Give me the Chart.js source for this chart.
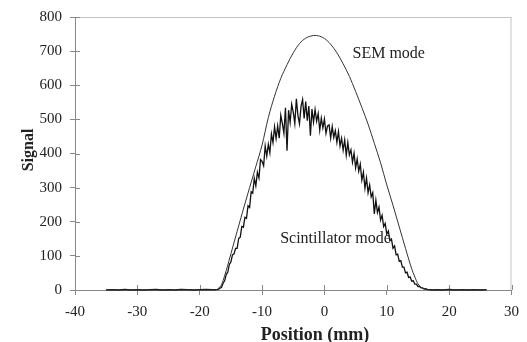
<!DOCTYPE html>
<html>
<head>
<meta charset="utf-8">
<script src="https://cdn.jsdelivr.net/npm/chart.js@4/dist/chart.umd.min.js"></script>
<style>
  html, body { margin: 0; padding: 0; background: #fff; }
</style>
</head>
<body>
<canvas id="myChart" width="527" height="342"></canvas>
<script>
// tick labels
const xTicks = [-40, -30, -20, -10, 0, 10, 20, 30];
const yTicks = [0, 100, 200, 300, 400, 500, 600, 700, 800];

// SEM mode (smooth)
const semX = [-35, -20, -17.5, -17, -16.5, -16, -15.5, -15, -14, -13, -12, -11, -10, -9, -8, -7, -6, -5, -4, -3, -2, -1.5, -1,
  0, 1, 2, 3, 4, 5, 6, 7, 8, 9, 10, 11, 12, 13, 14, 14.5, 15, 15.5, 16, 17, 20, 26];
const semY = [0, 0, 0, 5, 16, 42, 73, 106, 172, 237, 300, 362, 425, 505, 568, 620, 660, 695, 722, 738, 745, 746, 745,
  737, 720, 695, 663, 626, 582, 535, 486, 430, 373, 308, 248, 185, 122, 62, 38, 18, 8, 3, 0, 0, 0];

// Scintillator mode (noisy)
const scintX = [
  -35, -34, -33, -32, -31, -30, -29, -28, -27, -26, -25, -24, -23, -22, -21, -20, -19, -18, -17.5,
  -17, -16.75, -16.5, -16.25,
  -16, -15.75, -15.5, -15.25,
  -15, -14.75, -14.5, -14.25,
  -14, -13.75, -13.5, -13.25,
  -13, -12.75, -12.5, -12.25,
  -12, -11.75, -11.5, -11.25,
  -11, -10.75, -10.5, -10.25,
  -10, -9.75, -9.5, -9.25,
  -9, -8.75, -8.5, -8.25,
  -8, -7.75, -7.5, -7.25,
  -7, -6.75, -6.5, -6.25,
  -6, -5.75, -5.5, -5.25,
  -5, -4.75, -4.5, -4.25,
  -4, -3.75, -3.5, -3.25,
  -3, -2.75, -2.5, -2.25,
  -2, -1.75, -1.5, -1.25,
  -1, -0.75, -0.5, -0.25,
  0, 0.25, 0.5, 0.75,
  1, 1.25, 1.5, 1.75,
  2, 2.25, 2.5, 2.75,
  3, 3.25, 3.5, 3.75,
  4, 4.25, 4.5, 4.75,
  5, 5.25, 5.5, 5.75,
  6, 6.25, 6.5, 6.75,
  7, 7.25, 7.5, 7.75,
  8, 8.25, 8.5, 8.75,
  9, 9.25, 9.5, 9.75,
  10, 10.25, 10.5, 10.75,
  11, 11.25, 11.5, 11.75,
  12, 12.25, 12.5, 12.75,
  13, 13.25, 13.5, 13.75,
  14, 14.25, 14.5, 14.75,
  15, 15.25, 15.5, 15.75,
  16, 16.25, 16.5, 16.75,
  17, 17.5, 18, 19, 20, 21, 22, 23, 24, 25, 26
];
const scintY = [
  0, 1, 0, 2, 0, 1, 0, 1, 2, 0, 1, 0, 2, 1, 0, 1, 2, 1, 1,
  2, 5, 8, 20,
  27, 46, 52, 75,
  82, 103, 106, 122,
  122, 151, 155, 186,
  184, 213, 210, 247,
  242, 288, 284, 327,
  305, 345, 328, 382,
  377, 364, 422, 392,
  427, 402, 457, 432,
  478, 444, 481, 445,
  512, 488, 459, 534,
  408, 527, 491, 544,
  521, 488, 560, 511,
  487, 538, 558, 503,
  552, 496, 539, 452,
  530, 492, 529, 495,
  517, 468, 504, 475,
  501, 459, 481, 484,
  445, 479, 447, 467,
  433, 464, 422, 445,
  410, 440, 395, 432,
  396, 411, 374, 401,
  358, 384, 348, 369,
  322, 345, 298, 328,
  285, 308, 273, 285,
  223, 263, 227, 243,
  205, 219, 186, 195,
  164, 173, 144, 149,
  122, 129, 103, 105,
  84, 86, 67, 67,
  50, 52, 37, 38,
  26, 27, 17, 17,
  10, 11, 6, 6,
  3, 4, 2, 1,
  1, 0, 1, 0, 2, 0, 1, 0, 1, 0, 1
];

const serif = "'Liberation Serif', 'Times New Roman', serif";
const textColor = '#222';

// kotak atas/kanan, tick yang menembus sumbu, judul sumbu dan label kurva
const extras = {
  id: 'extras',
  beforeDatasetsDraw(chart) {
    const { ctx, chartArea: a, scales: { x, y } } = chart;
    ctx.save();
    ctx.lineWidth = 1;
    ctx.strokeStyle = '#c4c4c4';
    ctx.beginPath();
    ctx.moveTo(a.left, a.top + 0.5);
    ctx.lineTo(a.right, a.top + 0.5);
    ctx.moveTo(a.right - 0.5, a.top);
    ctx.lineTo(a.right - 0.5, a.bottom);
    ctx.stroke();

    ctx.strokeStyle = '#888';
    ctx.beginPath();
    xTicks.forEach(v => {
      const px = Math.round(x.getPixelForValue(v)) + 0.5;
      ctx.moveTo(px, a.bottom);
      ctx.lineTo(px, a.bottom - 5);
    });
    yTicks.forEach(v => {
      const py = Math.round(y.getPixelForValue(v)) + 0.5;
      ctx.moveTo(a.left, py);
      ctx.lineTo(a.left + 5, py);
    });
    ctx.stroke();
    ctx.restore();
  },
  afterDraw(chart) {
    const { ctx, scales: { x, y } } = chart;
    ctx.save();
    ctx.fillStyle = textColor;
    ctx.textBaseline = 'alphabetic';

    ctx.font = '16px ' + serif;
    ctx.textAlign = 'left';
    ctx.fillText('SEM mode', x.getPixelForValue(4.5), y.getPixelForValue(679));
    ctx.fillText('Scintillator mode', x.getPixelForValue(-7.1), y.getPixelForValue(139));

    ctx.font = 'bold 18px ' + serif;
    ctx.textAlign = 'center';
    ctx.fillText('Position (mm)', 315, 340);

    ctx.translate(33, 150);
    ctx.rotate(-Math.PI / 2);
    ctx.font = 'bold 16px ' + serif;
    ctx.fillText('Signal', 0, 0);
    ctx.restore();
  }
};

const ctx = document.getElementById('myChart').getContext('2d');
const chart = new Chart(ctx, {
  type: 'line',
  data: {
    datasets: [
      {
        label: 'SEM mode',
        data: semX.map((v, i) => ({ x: v, y: semY[i] })),
        borderColor: '#333',
        borderWidth: 1,
        pointRadius: 0,
        cubicInterpolationMode: 'monotone',
        clip: false,
      },
      {
        label: 'Scintillator mode',
        data: scintX.map((v, i) => ({ x: v, y: scintY[i] })),
        borderColor: '#111',
        borderWidth: 1.3,
        pointRadius: 0,
        tension: 0,
        clip: false,
      }
    ]
  },
  options: {
    responsive: false,
    animation: false,
    layout: { padding: { top: 13, right: 9, left: 0, bottom: 0 } },
    plugins: {
      legend: { display: false },
      tooltip: { enabled: false }
    },
    scales: {
      x: {
        type: 'linear',
        min: -40,
        max: 30,
        afterBuildTicks: s => { s.ticks = xTicks.map(v => ({ value: v })); },
        afterFit: s => { s.height = 52; },
        ticks: {
          color: textColor,
          font: { family: serif, size: 15 },
          padding: 8,
          maxRotation: 0,
          autoSkip: false,
          callback: v => String(v)
        },
        grid: { drawOnChartArea: false, color: '#888', tickLength: 5 },
        border: { color: '#888', width: 1 }
      },
      y: {
        min: 0,
        max: 800,
        afterBuildTicks: s => { s.ticks = yTicks.map(v => ({ value: v })); },
        afterFit: s => { s.width = 75; },
        ticks: {
          color: textColor,
          font: { family: serif, size: 15 },
          padding: 8,
          autoSkip: false,
          callback: v => String(v)
        },
        grid: { drawOnChartArea: false, color: '#888', tickLength: 5 },
        border: { color: '#888', width: 1 }
      }
    }
  },
  plugins: [extras]
});
</script>
</body>
</html>
